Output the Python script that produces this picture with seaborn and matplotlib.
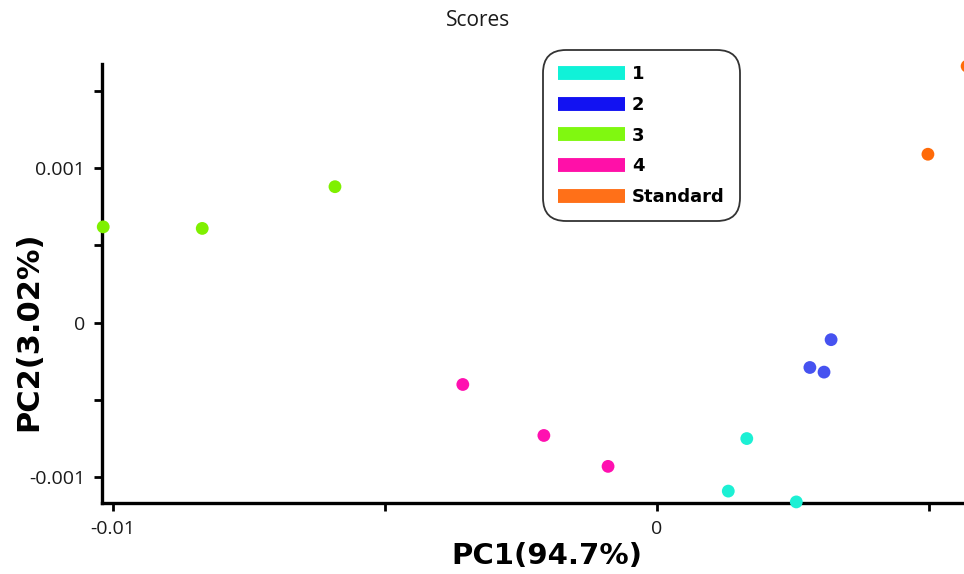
import matplotlib
matplotlib.use("Agg")
import matplotlib.pyplot as plt
import matplotlib.ticker as mticker
from matplotlib.lines import Line2D
import numpy as np
import pandas as pd
import seaborn as sns

# PCA scores per group
groups = ["1", "2", "3", "4", "Standard"]
pc1_g1 = [0.00165, 0.00131, 0.00256]
pc2_g1 = [-0.00075, -0.00109, -0.00116]
pc1_g2 = [0.00320, 0.00281, 0.00307]
pc2_g2 = [-0.00011, -0.00029, -0.00032]
pc1_g3 = [-0.01018, -0.00836, -0.00592]
pc2_g3 = [0.00062, 0.00061, 0.00088]
pc1_g4 = [-0.00357, -0.00208, -0.00090]
pc2_g4 = [-0.00040, -0.00073, -0.00093]
pc1_std = [0.00498, 0.00570]
pc2_std = [0.00109, 0.00166]

point_colors = ["#1CF0D4", "#4652F0", "#7FF000", "#FF10B0", "#FF6A08"]
legend_colors = ["#10F2D8", "#1212F2", "#80F810", "#FF10A8", "#FF7018"]

pc1 = [pc1_g1, pc1_g2, pc1_g3, pc1_g4, pc1_std]
pc2 = [pc2_g1, pc2_g2, pc2_g3, pc2_g4, pc2_std]
df = pd.DataFrame({
    "PC1": np.concatenate(pc1),
    "PC2": np.concatenate(pc2),
    "group": np.repeat(groups, [len(v) for v in pc1]),
})

sns.set_theme(style="white")
plt.rcParams["font.family"] = ["Open Sans", "DejaVu Sans"]
plt.rcParams["axes.unicode_minus"] = False

fig = plt.figure(figsize=(9.64, 5.74), dpi=100)
ax = fig.add_axes([0.1055, 0.1237, 0.8945, 0.7648])

sns.scatterplot(data=df, x="PC1", y="PC2", hue="group", hue_order=groups,
                palette=dict(zip(groups, point_colors)), s=85, linewidth=0,
                legend=False, ax=ax, zorder=3)
for coll in ax.collections:
    coll.set_clip_on(False)

ax.set_xlim(-0.010208, 0.005643)
ax.set_ylim(-0.001167, 0.001674)

for side in ["top", "right"]:
    ax.spines[side].set_visible(False)
for side in ["left", "bottom"]:
    ax.spines[side].set_linewidth(2.4)
    ax.spines[side].set_color("black")

ax.xaxis.set_major_locator(mticker.MultipleLocator(0.005))
ax.yaxis.set_major_locator(mticker.MultipleLocator(0.0005))


def fmt_x(v, pos):
    k = round(v / 0.005)
    if k % 2:
        return ""
    return "0" if k == 0 else f"{v:.2f}"


def fmt_y(v, pos):
    k = round(v / 0.0005)
    if k % 2:
        return ""
    return "0" if k == 0 else f"{v:.3f}"


ax.xaxis.set_major_formatter(mticker.FuncFormatter(fmt_x))
ax.yaxis.set_major_formatter(mticker.FuncFormatter(fmt_y))
ax.tick_params(axis="both", direction="out", length=6, width=2,
               color="black", labelsize=14, labelcolor="#1a1a1a",
               bottom=True, left=True, pad=6)

ax.set_xlabel("PC1(94.7%)", fontsize=21, fontweight="heavy",
              family="DejaVu Sans", color="black")
ax.set_ylabel("PC2(3.02%)", fontsize=22, fontweight="heavy",
              family="DejaVu Sans", color="black")
ax.xaxis.set_label_coords(0.516, -0.088)
ax.yaxis.set_label_coords(-0.068, 0.392)

fig.suptitle("Scores", x=0.496, y=0.965, va="center", fontsize=15,
             color="#1a1a1a")

handles = [Line2D([0], [0], color=c, lw=10, solid_capstyle="butt")
           for c in legend_colors]
leg = fig.legend(handles, groups, loc="upper left",
                 bbox_to_anchor=(0.563, 0.913), frameon=True,
                 fancybox=True, handlelength=3.7, handletextpad=0.4,
                 labelspacing=0.7, borderpad=0.85, borderaxespad=0,
                 labelcolor="black",
                 prop={"family": "DejaVu Sans", "weight": "bold", "size": 13})
frame = leg.get_frame()
frame.set_edgecolor("black")
frame.set_linewidth(1.3)
frame.set_boxstyle("round", pad=0, rounding_size=1.3)

fig.savefig("out.png", dpi=100)
